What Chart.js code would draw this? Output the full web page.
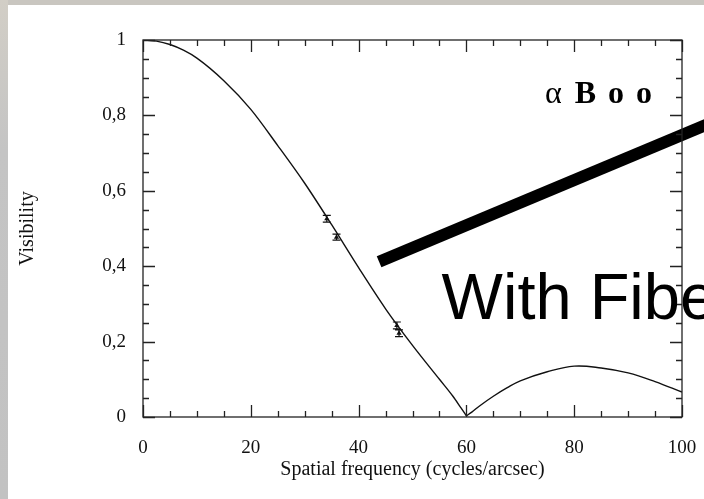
<!DOCTYPE html>
<html>
<head>
<meta charset="utf-8">
<script src="https://cdn.jsdelivr.net/npm/chart.js@4.4.1/dist/chart.umd.min.js"></script>
<style>
  html, body { margin: 0; padding: 0; background: #fff; }
  #page { position: relative; width: 704px; height: 499px; overflow: hidden; background: #fff; }
  .strip-top { position: absolute; left: 0; top: 0; width: 704px; height: 5px; background: #c9c6c0; }
  .strip-left { position: absolute; left: 0; top: 0; width: 8px; height: 499px; background: linear-gradient(#d2cec6, #c4c4c4 30%, #c2c2c2); }
  #chart { position: absolute; left: 0; top: 0; }
</style>
</head>
<body>
<div id="page">
  <div class="strip-top"></div>
  <div class="strip-left"></div>
  <canvas id="chart" width="704" height="499"></canvas>
</div>
<script>
// model curve (first null at 60)
const curveX = [0, 2.5, 5, 7.5, 10, 15, 20, 25, 30, 35, 40, 45, 50, 55, 57.5, 59, 60, 61, 62.5, 65, 67.5, 70, 75, 80, 85, 90, 95, 100];
const curveY = [1.000, 0.997, 0.988, 0.973, 0.952, 0.892, 0.816, 0.720, 0.620, 0.510, 0.396, 0.287, 0.190, 0.100, 0.055, 0.024, 0.003, 0.013, 0.030, 0.055, 0.077, 0.096, 0.120, 0.135, 0.130, 0.117, 0.094, 0.066];
const nullX = 60;

// measured visibilities with error bars
const obsX = [34.1, 35.9, 47.1, 47.5];
const obsY = [0.526, 0.477, 0.243, 0.222];
const obsErr = [0.009, 0.008, 0.009, 0.009];

// thick pointer line drawn over the slide
const pointerX = [43.8, 106];
const pointerY = [0.412, 0.784];

const xTickValues = [0, 20, 40, 60, 80, 100];
const xTickLabels = ['0', '20', '40', '60', '80', '100'];
const yTickValues = [0, 0.2, 0.4, 0.6, 0.8, 1];
const yTickLabels = ['0', '0,2', '0,4', '0,6', '0,8', '1'];
const xMinorStep = 5;
const yMinorStep = 0.05;

const starLabel = { greek: 'α', name: 'Boo', x: 74.6, nameX: 80.1, y: 0.834 };
const slideText = { text: 'With Fibe', x: 55.4, y: 0.261 };

const serif = '"Liberation Serif", "Times New Roman", serif';
const ink = '#111';

const curvePoints = curveX.map((v, i) => ({ x: v, y: curveY[i] }));

function curveDataset(label, data, smooth) {
    return Object.assign({
        label: label,
        data: data,
        borderColor: ink,
        borderWidth: 1.4,
        pointRadius: 0,
        fill: false,
        order: 2
    }, smooth);
}

const frameTicks = {
    id: 'frameTicks',
    afterDatasetsDraw(chart) {
        const { ctx, chartArea: a, scales: { x, y } } = chart;
        ctx.save();
        ctx.strokeStyle = '#222';
        ctx.lineWidth = 1.3;
        ctx.strokeRect(a.left, a.top, a.right - a.left, a.bottom - a.top);
        ctx.beginPath();
        const nx = Math.round((x.max - x.min) / xMinorStep);
        for (let i = 0; i <= nx; i++) {
            const v = x.min + i * xMinorStep;
            const px = Math.round(x.getPixelForValue(v)) + 0.5;
            const len = xTickValues.includes(v) ? 12 : 6;
            ctx.moveTo(px, a.bottom); ctx.lineTo(px, a.bottom - len);
            ctx.moveTo(px, a.top); ctx.lineTo(px, a.top + len);
        }
        const ny = Math.round((y.max - y.min) / yMinorStep);
        for (let i = 0; i <= ny; i++) {
            const v = y.min + i * yMinorStep;
            const py = Math.round(y.getPixelForValue(v)) + 0.5;
            const len = i % 4 === 0 ? 12 : 6;
            ctx.moveTo(a.left, py); ctx.lineTo(a.left + len, py);
            ctx.moveTo(a.right, py); ctx.lineTo(a.right - len, py);
        }
        ctx.stroke();
        ctx.restore();
    }
};

const errorBars = {
    id: 'errorBars',
    afterDatasetsDraw(chart) {
        const { ctx, scales: { x, y } } = chart;
        ctx.save();
        ctx.strokeStyle = ink;
        ctx.lineWidth = 1.2;
        ctx.beginPath();
        obsX.forEach((v, i) => {
            const px = x.getPixelForValue(v);
            const top = y.getPixelForValue(obsY[i] + obsErr[i]);
            const bot = y.getPixelForValue(obsY[i] - obsErr[i]);
            ctx.moveTo(px, top); ctx.lineTo(px, bot);
            ctx.moveTo(px - 4, top); ctx.lineTo(px + 4, top);
            ctx.moveTo(px - 4, bot); ctx.lineTo(px + 4, bot);
        });
        ctx.stroke();
        ctx.restore();
    }
};

const slideLabels = {
    id: 'slideLabels',
    afterDraw(chart) {
        const { ctx, scales: { x, y } } = chart;
        ctx.save();
        ctx.fillStyle = '#000';
        ctx.textBaseline = 'alphabetic';
        ctx.textAlign = 'left';

        const by = y.getPixelForValue(starLabel.y);
        ctx.font = `32px ${serif}`;
        ctx.fillText(starLabel.greek, x.getPixelForValue(starLabel.x), by);
        ctx.font = `bold 32px ${serif}`;
        let cx = x.getPixelForValue(starLabel.nameX);
        for (const ch of starLabel.name) {
            ctx.fillText(ch, cx, by);
            cx += ctx.measureText(ch).width + 12;
        }

        ctx.font = '65px "Liberation Sans", Arial, sans-serif';
        ctx.fillText(slideText.text, x.getPixelForValue(slideText.x), y.getPixelForValue(slideText.y));
        ctx.restore();
    }
};

new Chart(document.getElementById('chart'), {
    type: 'line',
    data: {
        datasets: [
            // split at the null so the cusp stays sharp
            curveDataset('model', curvePoints.filter(p => p.x <= nullX), { cubicInterpolationMode: 'monotone' }),
            curveDataset('model lobe', curvePoints.filter(p => p.x >= nullX), { tension: 0.4 }),
            {
                type: 'scatter',
                label: 'observed',
                data: obsX.map((v, i) => ({ x: v, y: obsY[i] })),
                pointStyle: 'triangle',
                pointRadius: 3,
                backgroundColor: ink,
                borderColor: ink,
                borderWidth: 0,
                order: 1
            },
            {
                label: 'pointer',
                data: pointerX.map((v, i) => ({ x: v, y: pointerY[i] })),
                borderColor: '#000',
                borderWidth: 12,
                borderCapStyle: 'butt',
                pointRadius: 0,
                clip: false,
                order: 0
            }
        ]
    },
    options: {
        responsive: false,
        animation: false,
        devicePixelRatio: 1,
        layout: { padding: { left: 0, right: 22, top: 40, bottom: 0 } },
        plugins: { legend: { display: false }, tooltip: { enabled: false } },
        scales: {
            x: {
                type: 'linear',
                min: 0,
                max: 100,
                afterBuildTicks: s => { s.ticks = xTickValues.map(v => ({ value: v })); },
                afterFit: s => { s.height = 82; },
                grid: { display: false, drawTicks: true, tickLength: 15 },
                border: { display: false },
                ticks: {
                    color: ink,
                    padding: 5,
                    maxRotation: 0,
                    autoSkip: false,
                    font: { family: serif, size: 19 },
                    callback: (v, i) => xTickLabels[i]
                },
                title: {
                    display: true,
                    text: 'Spatial frequency (cycles/arcsec)',
                    color: ink,
                    font: { family: serif, size: 20 },
                    padding: { top: 0, bottom: 17 }
                }
            },
            y: {
                type: 'linear',
                min: 0,
                max: 1,
                afterBuildTicks: s => { s.ticks = yTickValues.map(v => ({ value: v })); },
                afterFit: s => { s.width = 143; },
                grid: { display: false, drawTicks: false },
                border: { display: false },
                ticks: {
                    color: ink,
                    padding: 17,
                    autoSkip: false,
                    font: { family: serif, size: 19 },
                    callback: (v, i) => yTickLabels[i]
                },
                title: {
                    display: true,
                    text: 'Visibility',
                    color: ink,
                    font: { family: serif, size: 20 },
                    padding: { top: 16, bottom: 0 }
                }
            }
        }
    },
    plugins: [frameTicks, errorBars, slideLabels]
});
</script>
</body>
</html>
